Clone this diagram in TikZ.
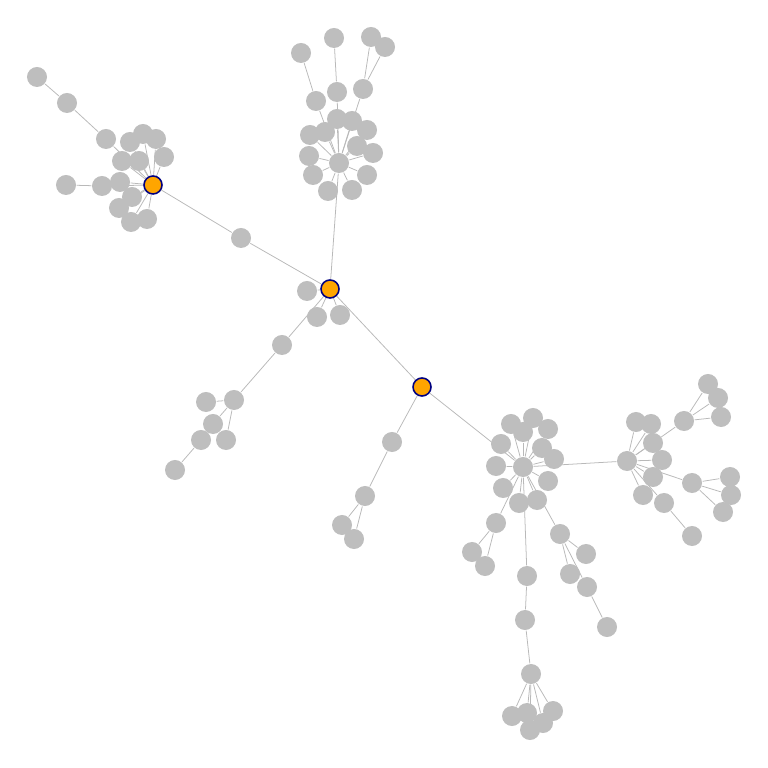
\documentclass[tikz,border=0pt]{standalone}
\usepackage{tikz}
\usetikzlibrary{backgrounds}
\definecolor{leafgrey}{RGB}{190,190,190}
\definecolor{hubfill}{RGB}{255,165,0}
\definecolor{hubline}{RGB}{0,0,128}
\definecolor{edgegrey}{RGB}{185,185,185}
\begin{document}
\begin{tikzpicture}[x=0.01cm, y=-0.01cm,
  leaf/.style={circle, fill=leafgrey, inner sep=0pt, minimum size=0.2cm},
  hub/.style={circle, fill=hubfill, draw=hubline, line width=0.45pt, inner sep=0pt, minimum size=0.18cm},
  edge/.style={draw=edgegrey, line width=0.22pt}]
  \useasboundingbox (0,0) rectangle (768,768);
  % top cluster
  \foreach \n/\x/\y in {t1/301/53, t2/334/38, t3/371/37, t4/385/47, t5/316/101, t6/337/92,
      t7/363/89, t8/337/119, t9/352/121, t10/367/130, t11/310/135, t12/325/132,
      t13/357/146, t14/373/153, t15/309/156, t16/313/175, t17/367/175, t18/328/191,
      t19/352/190, t0/339/163} {
    \node[leaf] (\n) at (\x,\y) {};
  }
  % left cluster
  \foreach \n/\x/\y in {l1/37/77, l2/67/103, l3/106/139, l4/130/142, l5/143/134, l6/156/139,
      l7/164/157, l8/122/161, l9/139/161, l10/120/182, l11/66/185, l12/102/186,
      l13/132/197, l14/119/208, l15/131/222, l16/147/219, l17/241/238} {
    \node[leaf] (\n) at (\x,\y) {};
  }
  % branches below the middle hub
  \foreach \n/\x/\y in {b1/307/291, b2/317/317, b3/340/315, b4/282/345, b5/234/400,
      b6/206/402, b7/213/424, b8/226/440, b9/201/440, b10/175/470,
      c1/392/442, c2/365/496, c3/342/525, c4/354/539} {
    \node[leaf] (\n) at (\x,\y) {};
  }
  % big cluster
  \foreach \n/\x/\y in {d1/511/424, d2/533/418, d3/523/432, d4/548/429, d5/542/448,
      d6/554/459, d7/501/444, d8/496/466, d9/503/488, d10/519/503, d11/537/500,
      d12/548/481, d13/496/523, d14/472/552, d15/485/566, d16/527/576, d17/525/620,
      d18/531/674, d19/512/716, d20/527/713, d21/530/730, d22/543/723, d23/553/711,
      d24/560/534, d25/586/554, d26/570/574, d27/587/587, d28/607/627, d0/523/467} {
    \node[leaf] (\n) at (\x,\y) {};
  }
  % right cluster
  \foreach \n/\x/\y in {e1/636/422, e2/651/424, e3/653/443, e4/662/460, e5/653/477,
      e6/643/495, e7/664/503, e8/692/536, e9/684/421, e10/708/384, e11/718/398,
      e12/721/417, e13/692/483, e14/730/477, e15/731/495, e16/723/512, e0/627/461} {
    \node[leaf] (\n) at (\x,\y) {};
  }
  % hubs
  \node[hub] (hA) at (153,185) {};
  \node[hub] (hB) at (330,289) {};
  \node[hub] (hC) at (422,387) {};
  % links
  \begin{scope}[on background layer]
    \foreach \a/\b in {t1/t5, t5/t0, t2/t6, t6/t0, t3/t7, t4/t7, t7/t0, t0/hB,
        l1/l2, l2/l3, l3/hA, l11/l12, l12/hA, hA/l17, l17/hB,
        hB/b1, hB/b2, hB/b3, hB/b4, b4/b5, b5/b6, b5/b7, b5/b8, b7/b9, b9/b10,
        hB/hC, hC/c1, c1/c2, c2/c3, c2/c4, hC/d0,
        d13/d14, d13/d15, d16/d17, d17/d18, d24/d25, d24/d26, d24/d27, d27/d28,
        d0/e0, e7/e8, e0/e9, e9/e10, e9/e11, e9/e12, e0/e13, e13/e14, e13/e15, e13/e16} {
      \draw[edge] (\a) -- (\b);
    }
    \foreach \k in {8,...,19} {\draw[edge] (t0) -- (t\k);}
    \foreach \k in {4,...,10,13,14,15,16} {\draw[edge] (hA) -- (l\k);}
    \foreach \k in {1,...,13,16,24} {\draw[edge] (d0) -- (d\k);}
    \foreach \k in {19,...,23} {\draw[edge] (d18) -- (d\k);}
    \foreach \k in {1,...,7} {\draw[edge] (e0) -- (e\k);}
  \end{scope}
\end{tikzpicture}
\end{document}
